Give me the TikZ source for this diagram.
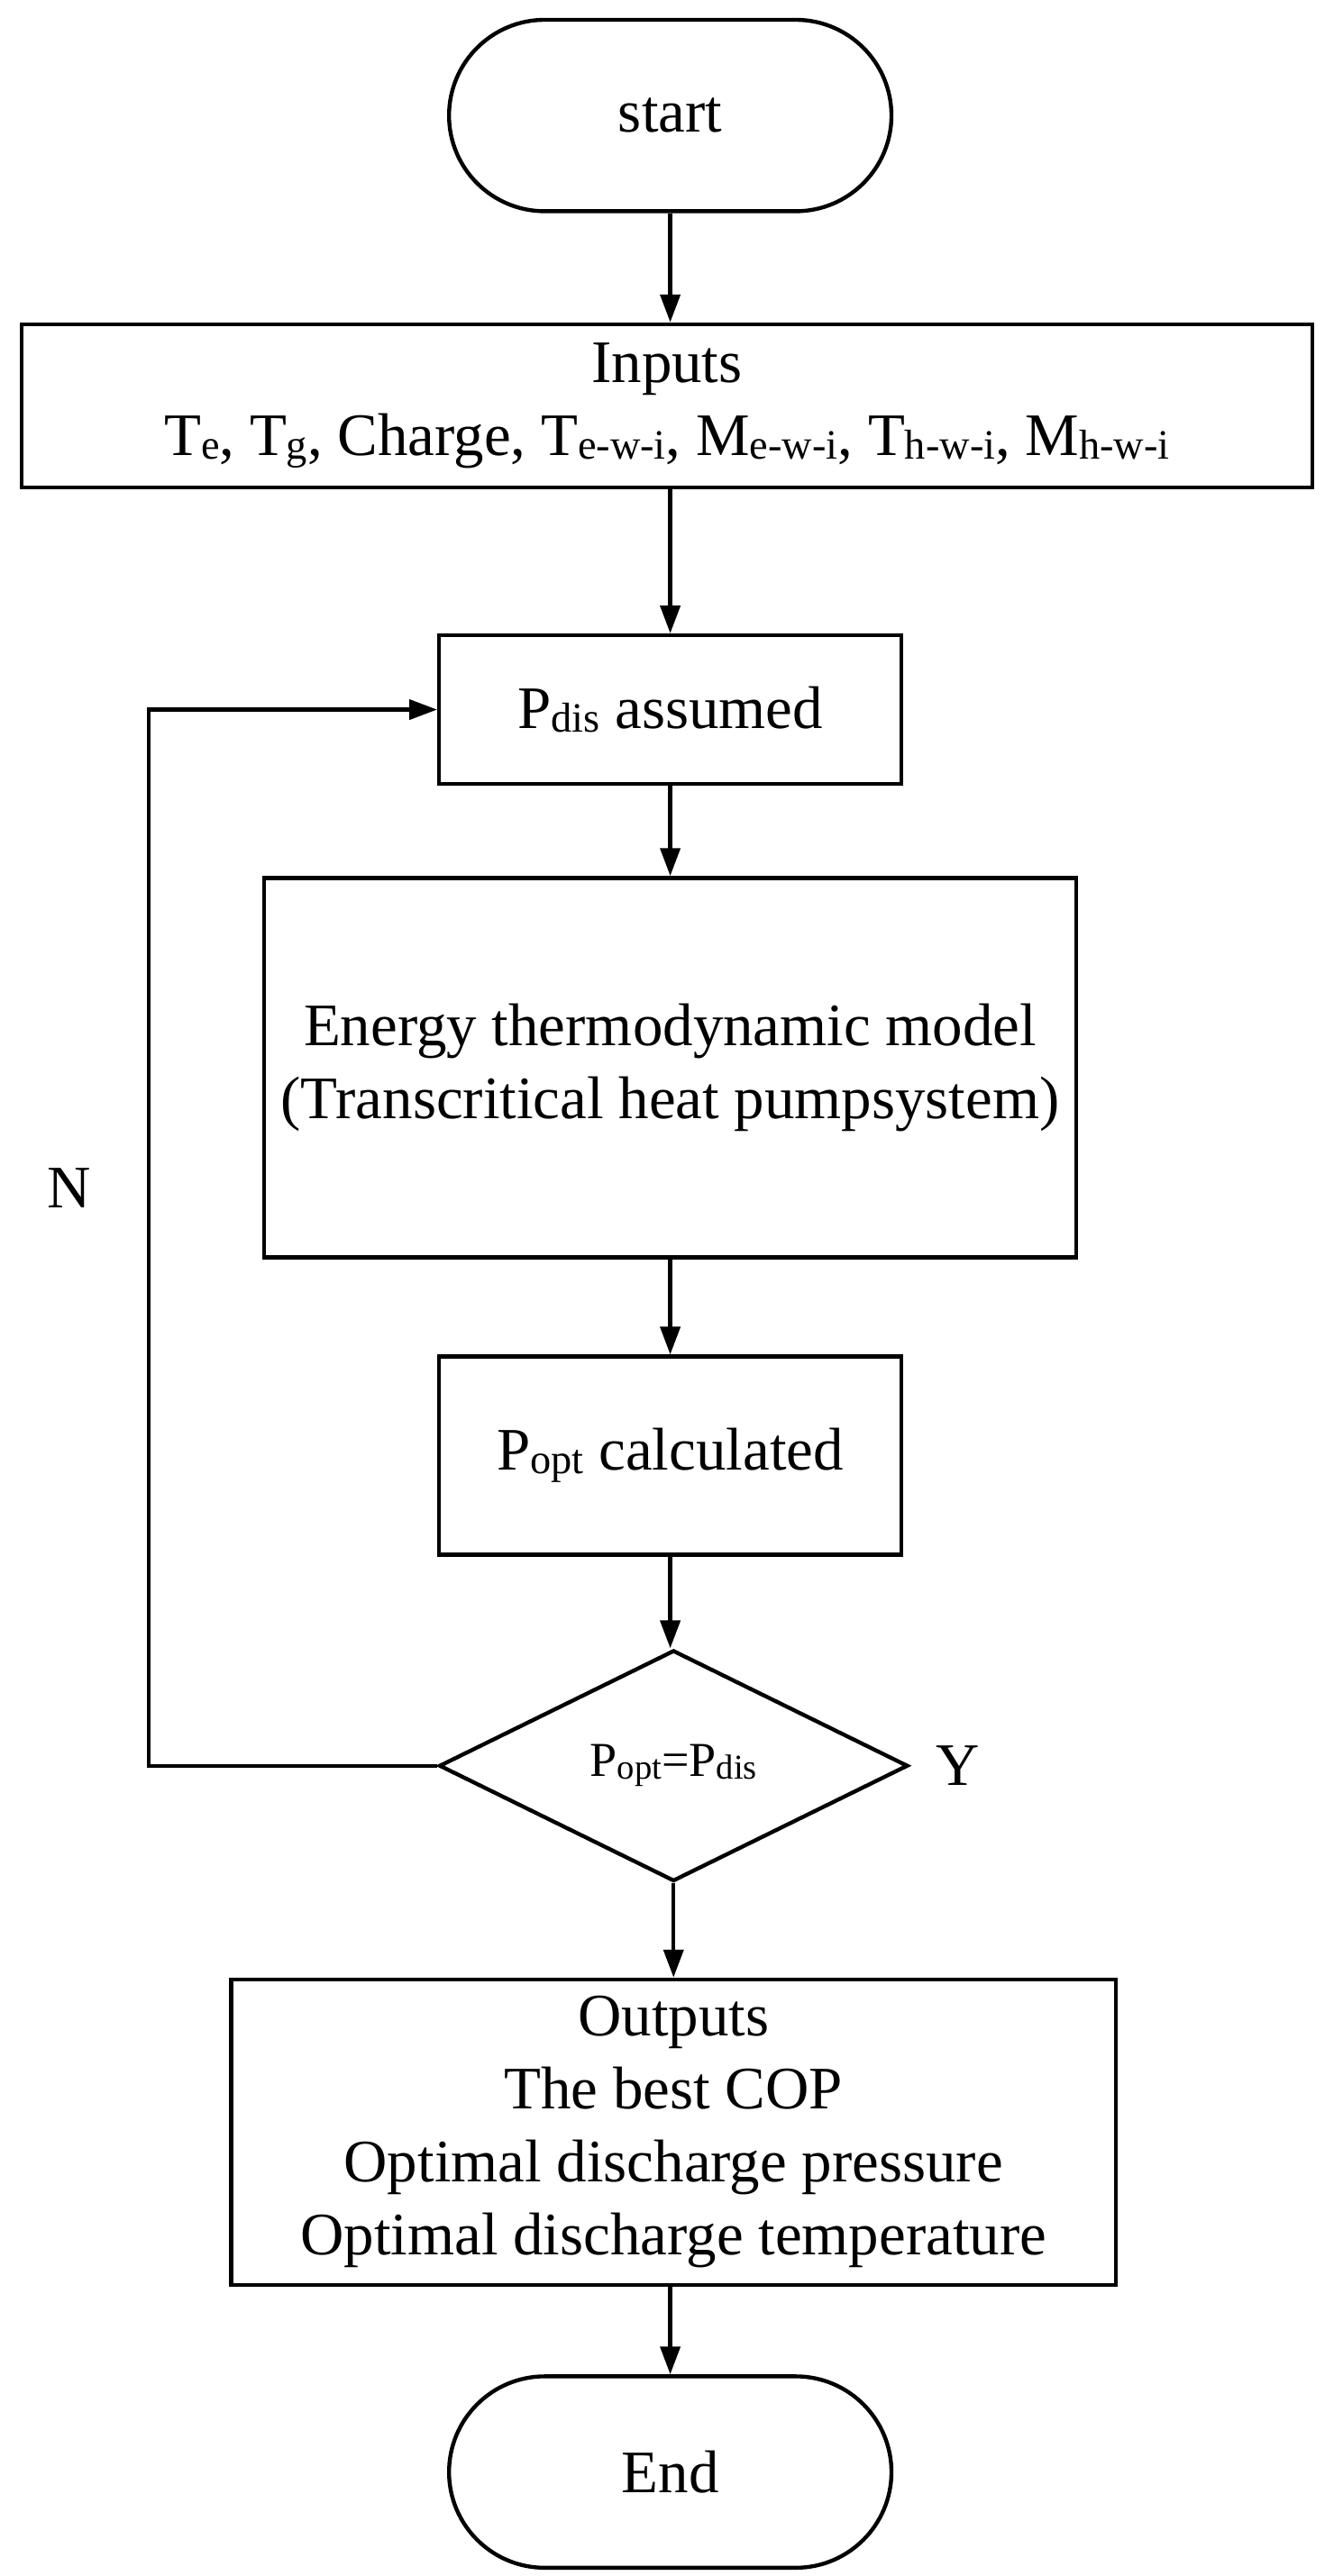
\documentclass[tikz,border=0pt]{standalone}
\usepackage{fontspec}
\setmainfont{Liberation Serif}
\usetikzlibrary{shapes.geometric,arrows.meta}
\newcommand{\sbx}[1]{\raisebox{-0.12ex}{\fontsize{36}{40}\selectfont #1}}
\newcommand{\sby}[1]{\raisebox{-0.12ex}{\fontsize{30}{34}\selectfont #1}}
\begin{document}
\begin{tikzpicture}[x=0.05cm,y=-0.05cm,
  every node/.style={font=\fontsize{52}{63}\selectfont},
  box/.style={draw,line width=3.4pt,align=center,inner sep=0pt},
  term/.style={box,rounded corners=58*0.05cm},
  arr/.style={line width=3.4pt,-{Triangle[length=24pt,width=17pt]}}]
\useasboundingbox (0,0) rectangle (808,1561);
\node[term,minimum width=268*0.05cm,minimum height=116*0.05cm] (start) at (406,70) {start};
\node[box,minimum width=782*0.05cm,minimum height=99*0.05cm] (in) at (404,246) {Inputs\\T\sbx{e}, T\sbx{g}, Charge, T\sbx{e-w-i}, M\sbx{e-w-i}, T\sbx{h-w-i}, M\sbx{h-w-i}};
\node[box,minimum width=280*0.05cm,minimum height=90*0.05cm] (pd) at (406,430) {P\sbx{dis} assumed};
\node[box,minimum width=492*0.05cm,minimum height=230*0.05cm] (en) at (406,647) {Energy thermodynamic model\\(Transcritical heat pumpsystem)};
\node[box,minimum width=280*0.05cm,minimum height=120*0.05cm] (po) at (406,882) {P\sbx{opt} calculated};
\node[diamond,draw,line width=3.4pt,aspect=2.03,minimum width=284*0.05cm,minimum height=140*0.05cm,inner sep=0pt,font=\fontsize{42}{50}\selectfont] (dc) at (408,1070) {P\sby{opt}=P\sby{dis}};
\node[box,minimum width=536*0.05cm,minimum height=185*0.05cm] (out) at (408,1292) {Outputs\\The best COP\\Optimal discharge pressure\\Optimal discharge temperature};
\node[term,minimum width=268*0.05cm,minimum height=116*0.05cm] (end) at (406,1498) {End};
\node (N) at (42,720) {N};
\node (Y) at (580,1070) {Y};
\coordinate (c1) at (90,1070);
\coordinate (c2) at (90,430);
\draw[arr] (start) -- (in.north -| start);
\draw[arr] (in.south -| pd) -- (pd);
\draw[arr] (pd) -- (en);
\draw[arr] (en) -- (po);
\draw[arr] (po.south) -- (po.south |- dc.north);
\draw[arr] (dc) -- (dc.south |- out.north);
\draw[arr] (out.south -| end) -- (end);
\draw[arr] (dc.west) -- (c1) -- (c2) -- (pd.west);
\end{tikzpicture}
\end{document}
